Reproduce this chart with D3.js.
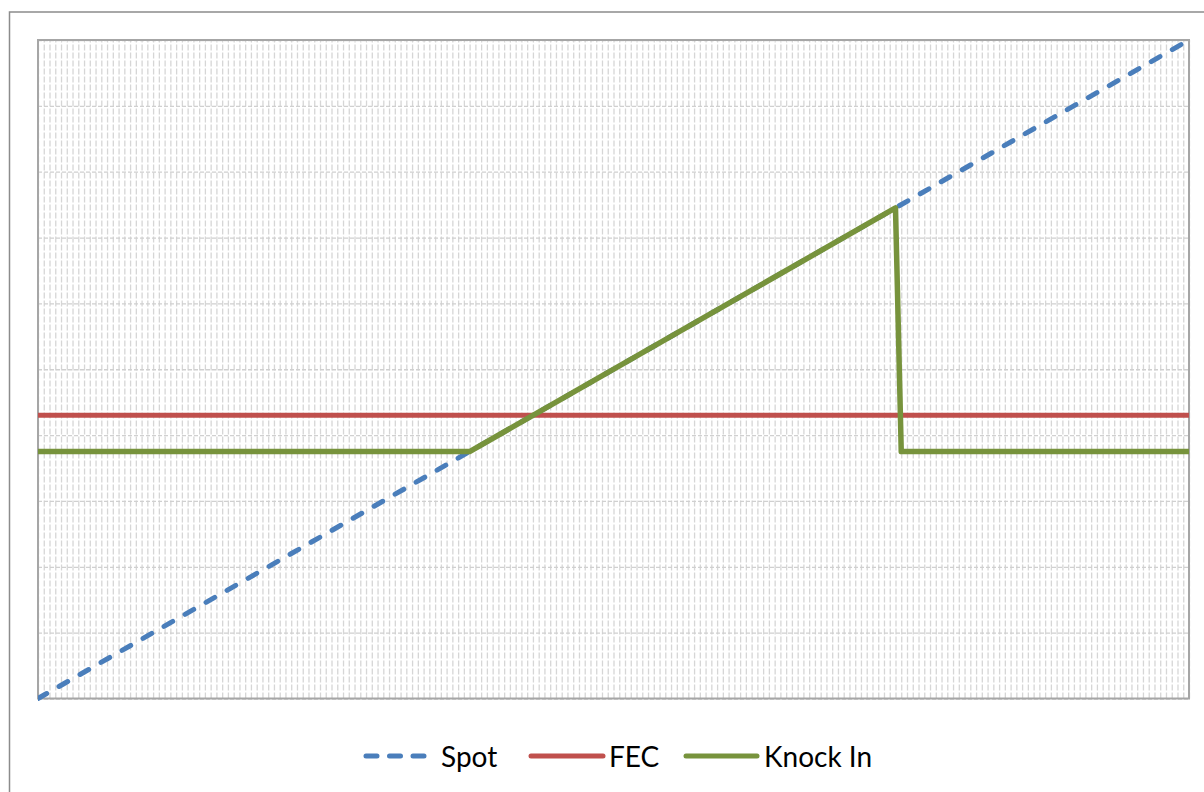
<!DOCTYPE html>
<html>
<head>
<meta charset="utf-8">
<script src="https://cdn.jsdelivr.net/npm/d3@7/dist/d3.min.js"></script>
<style>
  html, body { margin: 0; padding: 0; background: #ffffff; }
  svg { display: block; }
</style>
</head>
<body>
<svg id="chart" width="1204" height="792"></svg>
<script>
// ---- data ----
const seriesNames = ["Spot", "FEC", "Knock In"];
const spotX = [0, 200];
const spotY = [0, 10];
const fecX = [0, 200];
const fecY = [4.3, 4.3];
const knockX = [0, 75, 149, 150, 200];
const knockY = [3.75, 3.75, 7.45, 3.75, 3.75];
const xDomain = [0, 200];
const yDomain = [0, 10];
const xGridStep = 1;
const yGridStep = 1;

// ---- layout ----
const svg = d3.select("#chart");
const W = 1204, H = 792;
const plot = { left: 38, top: 40, right: 1189, bottom: 698.5 };

const x = d3.scaleLinear().domain(xDomain).range([plot.left, plot.right]);
const y = d3.scaleLinear().domain(yDomain).range([plot.bottom, plot.top]);

// outer chart area border (extends beyond the visible frame right/bottom)
svg.append("rect")
  .attr("x", 9.5).attr("y", 12)
  .attr("width", W + 20).attr("height", H + 20)
  .attr("fill", "#ffffff")
  .attr("stroke", "#8c8c8c").attr("stroke-width", 1.5);

// gridlines via axes
const xGridVals = d3.range(xDomain[0], xDomain[1] + xGridStep / 2, xGridStep);
const yGridVals = d3.range(yDomain[0], yDomain[1] + yGridStep / 2, yGridStep);

const gx = svg.append("g")
  .attr("transform", `translate(0,${plot.bottom})`)
  .call(d3.axisBottom(x).tickValues(xGridVals).tickSize(-(plot.bottom - plot.top)).tickFormat(""));
gx.select(".domain").remove();
gx.selectAll("line")
  .attr("stroke", "#d6d6d6").attr("stroke-width", 1.3)
  .attr("stroke-dasharray", "6,2");

const gy = svg.append("g")
  .attr("transform", `translate(${plot.left},0)`)
  .call(d3.axisLeft(y).tickValues(yGridVals).tickSize(-(plot.right - plot.left)).tickFormat(""));
gy.select(".domain").remove();
gy.selectAll("line")
  .attr("stroke", "#d0d0d0").attr("stroke-width", 1.3)
  .attr("stroke-dasharray", "4,2");

// plot area border
svg.append("rect")
  .attr("x", plot.left).attr("y", plot.top)
  .attr("width", plot.right - plot.left).attr("height", plot.bottom - plot.top)
  .attr("fill", "none").attr("stroke", "#a6a6a6").attr("stroke-width", 2);

// series
const series = [
  { name: seriesNames[0], xs: spotX, ys: spotY, color: "#4a7ebb", dash: "10,14.2", width: 5 },
  { name: seriesNames[1], xs: fecX, ys: fecY, color: "#c0504d", dash: null, width: 5 },
  { name: seriesNames[2], xs: knockX, ys: knockY, color: "#77933c", dash: null, width: 5.5 }
];

const line = d3.line().x(d => x(d[0])).y(d => y(d[1]));

svg.append("clipPath").attr("id", "plotclip")
  .append("rect")
  .attr("x", plot.left).attr("y", plot.top - 3)
  .attr("width", plot.right - plot.left).attr("height", plot.bottom - plot.top + 6);

const lines = svg.append("g").attr("clip-path", "url(#plotclip)");
series.forEach(s => {
  const pts = s.xs.map((v, i) => [v, s.ys[i]]);
  lines.append("path")
    .attr("d", line(pts))
    .attr("fill", "none")
    .attr("stroke", s.color)
    .attr("stroke-width", s.width)
    .attr("stroke-linejoin", "round")
    .attr("stroke-linecap", s.dash ? "round" : "butt")
    .attr("stroke-dasharray", s.dash);
});

// legend
const legendY = 756;
const legendItems = [
  { x1: 366, x2: 426, tx: 441, dash: "11,12.5" },
  { x1: 531, x2: 603, tx: 609, dash: null },
  { x1: 686, x2: 757, tx: 764, dash: null }
];
const lg = svg.append("g");
series.forEach((s, i) => {
  const li = legendItems[i];
  lg.append("line")
    .attr("x1", li.x1).attr("x2", li.x2)
    .attr("y1", legendY).attr("y2", legendY)
    .attr("stroke", s.color).attr("stroke-width", 5)
    .attr("stroke-linecap", "round")
    .attr("stroke-dasharray", li.dash);
  lg.append("text")
    .attr("x", li.tx).attr("y", legendY + 10.5)
    .attr("font-family", "Lato, 'Open Sans', sans-serif")
    .attr("font-size", 28)
    .attr("fill", "#000000")
    .text(s.name);
});
</script>
</body>
</html>
